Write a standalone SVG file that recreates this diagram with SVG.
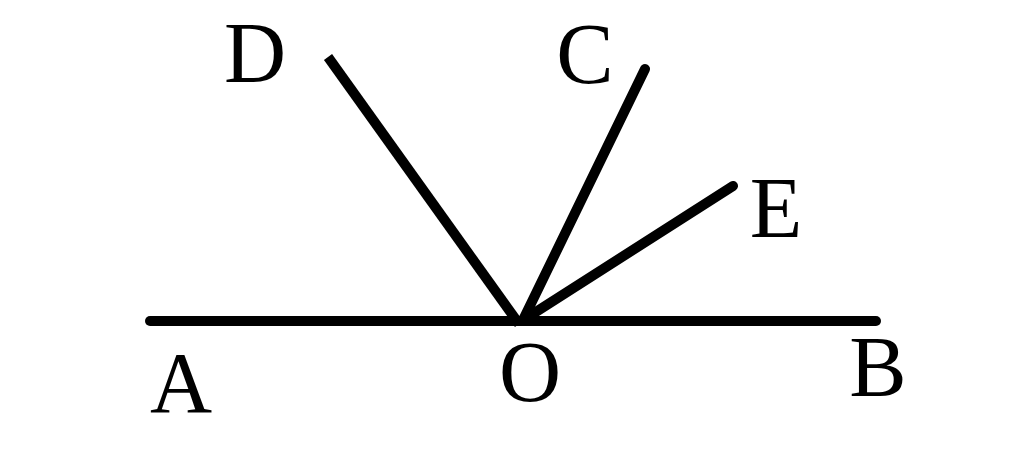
<svg xmlns="http://www.w3.org/2000/svg" width="1024" height="451" viewBox="0 0 1024 451">
<style>
.ln{stroke:#000;stroke-width:10;stroke-linecap:round;fill:none}
.lb{font-family:"Liberation Serif","Times New Roman",serif;font-size:86px;fill:#000;text-anchor:middle}
</style>
<rect width="1024" height="451" fill="#fff"/>
<g id="connectors">
<line class="ln" x1="150" y1="321" x2="876" y2="321"/>
<line class="ln" x1="328" y1="57" x2="519" y2="324" style="stroke-linecap:butt"/>
<line class="ln" x1="645" y1="69" x2="524" y2="318"/>
<line class="ln" x1="733" y1="186" x2="528" y2="317"/>
</g>
<g id="D"><text class="lb" x="255" y="82">D</text></g>
<g id="C"><text class="lb" x="585" y="83">C</text></g>
<g id="E"><text class="lb" x="776" y="237">E</text></g>
<g id="A"><text class="lb" x="181" y="412">A</text></g>
<g id="O"><text class="lb" x="530" y="401">O</text></g>
<g id="B"><text class="lb" x="878" y="396">B</text></g>
</svg>
